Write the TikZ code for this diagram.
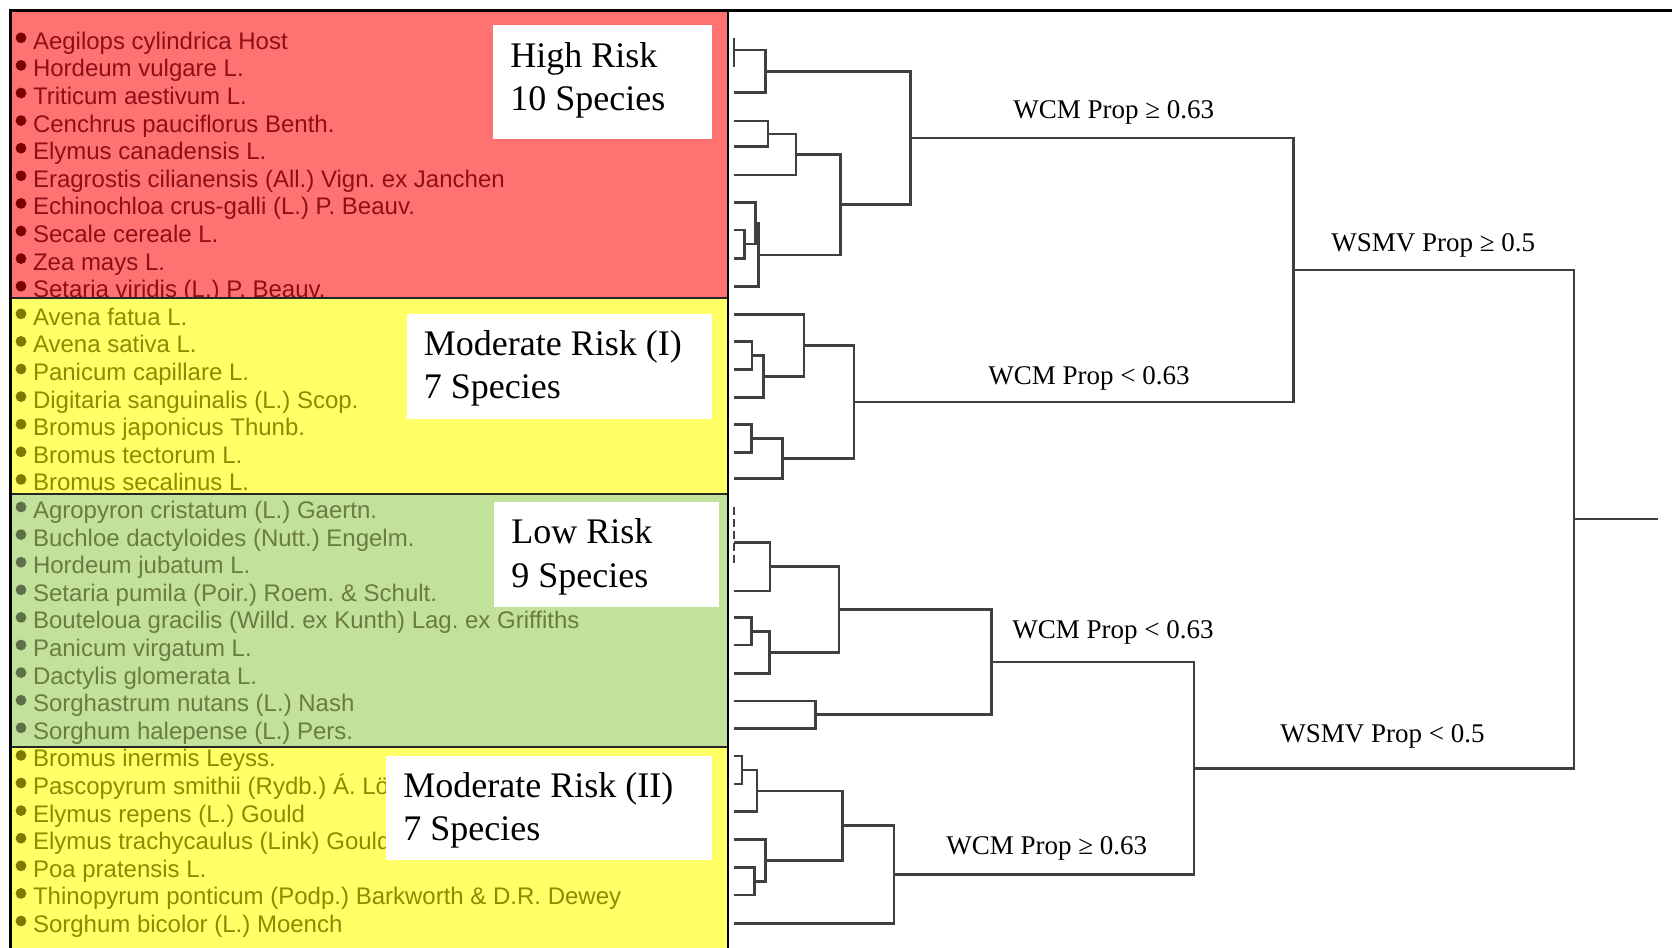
\documentclass[tikz,border=0pt]{standalone}
\usepackage{fontspec}
\setmainfont{Liberation Serif}
\newfontfamily\spfont{Liberation Sans}
\definecolor{redfill}{HTML}{FF7272}
\definecolor{redtext}{HTML}{8E0F16}
\definecolor{reddot}{HTML}{7A0000}
\definecolor{yelfill}{HTML}{FFFF66}
\definecolor{yeltext}{HTML}{8C8A00}
\definecolor{yeldot}{HTML}{7D7A00}
\definecolor{grnfill}{HTML}{C2E29C}
\definecolor{grntext}{HTML}{6A7C40}
\definecolor{grndot}{HTML}{5E7048}
\definecolor{dgray}{HTML}{404040}
\frenchspacing
\begin{document}
\frenchspacing
\begin{tikzpicture}[x=0.5pt,y=-0.5pt,
  sp/.style={anchor=base west, inner sep=0pt, font=\spfont\fontsize{12pt}{14pt}\selectfont\frenchspacing},
  dot/.style={circle, inner sep=0pt, minimum size=5.4pt},
  lbl/.style={anchor=base west, inner sep=0pt, font=\fontsize{18pt}{21pt}\selectfont},
  cond/.style={anchor=base west, inner sep=0pt, font=\fontsize{13.5pt}{16pt}\selectfont},
  wbox/.style={fill=white, draw=none, inner sep=0pt, anchor=north west},
  br/.style={draw=dgray, line width=1.25pt},
  tick/.style={draw=dgray, line width=0.8pt},
  dtick/.style={draw=dgray, line width=0.8pt, dash pattern=on 4pt off 2pt},
  frame/.style={draw=black, line width=1.2pt},
  sep/.style={draw=black!85, line width=1pt}
]
\useasboundingbox (0,0) rectangle (1672,948);

% ---- bands and species lists ----
\fill[redfill] (10.5,10.5) rectangle (728,298.3);
\foreach \t [count=\i from 0] in {Aegilops cylindrica Host, Hordeum vulgare L., Triticum aestivum L., Cenchrus pauciflorus Benth., Elymus canadensis L., Eragrostis cilianensis (All.) Vign. ex Janchen, Echinochloa crus-galli (L.) P. Beauv., Secale cereale L., Zea mays L., Setaria viridis (L.) P. Beauv.} {
  \node[dot, fill=reddot] (rd\i) at (21, {37.8+27.6*\i}) {};
  \node[sp, text=redtext] (rs\i) at (32.6, {49.3+27.6*\i}) {\t};
}
\fill[yelfill] (10.5,298.3) rectangle (728,494);
\foreach \t [count=\i from 0] in {Avena fatua L., Avena sativa L., Panicum capillare L., Digitaria sanguinalis (L.) Scop., Bromus japonicus Thunb., Bromus tectorum L., Bromus secalinus L.} {
  \node[dot, fill=yeldot] (ad\i) at (21, {37.8+27.6*(\i+10)}) {};
  \node[sp, text=yeltext] (as\i) at (32.6, {49.3+27.6*(\i+10)}) {\t};
}
\fill[grnfill] (10.5,494) rectangle (728,747);
\foreach \t [count=\i from 0] in {Agropyron cristatum (L.) Gaertn., Buchloe dactyloides (Nutt.) Engelm., Hordeum jubatum L., Setaria pumila (Poir.) Roem. \& Schult., Bouteloua gracilis (Willd. ex Kunth) Lag. ex Griffiths, Panicum virgatum L., Dactylis glomerata L., Sorghastrum nutans (L.) Nash, Sorghum halepense (L.) Pers.} {
  \node[dot, fill=grndot] (gd\i) at (21, {37.8+27.6*(\i+17)}) {};
  \node[sp, text=grntext] (gs\i) at (32.6, {49.3+27.6*(\i+17)}) {\t};
}
\fill[yelfill] (10.5,747) rectangle (728,948);
\foreach \t [count=\i from 0] in {Bromus inermis Leyss., Pascopyrum smithii (Rydb.) Á. Löve, Elymus repens (L.) Gould, Elymus trachycaulus (Link) Gould, Poa pratensis L., Thinopyrum ponticum (Podp.) Barkworth \& D.R. Dewey, Sorghum bicolor (L.) Moench} {
  \node[dot, fill=yeldot] (bd\i) at (21, {37.8+27.6*(\i+26)}) {};
  \node[sp, text=yeltext] (bs\i) at (32.6, {49.3+27.6*(\i+26)}) {\t};
}

% band separators and frame
\draw[sep] (10.5,298.3) -- (728,298.3);
\draw[sep] (10.5,494) -- (728,494);
\draw[sep] (10.5,747) -- (728,747);
\draw[frame] (1672,10.5) -- (10.5,10.5) -- (10.5,948);
\draw[frame] (728,10.5) -- (728,948);

% ---- group label boxes ----
\node[wbox, minimum width=109.7pt, minimum height=57pt] (hrbox) at (492.6,25) {};
\node[lbl] (hr1) at (510,67) {High Risk};
\node[lbl] (hr2) at (510,110) {10 Species};

\node[wbox, minimum width=152.5pt, minimum height=52.5pt] (m1box) at (407,313.5) {};
\node[lbl] (m11) at (423.5,355) {Moderate Risk (I)};
\node[lbl] (m12) at (423.5,398) {7 Species};

\node[wbox, minimum width=112.75pt, minimum height=52.5pt] (lrbox) at (493.5,502) {};
\node[lbl] (lr1) at (511,543.5) {Low Risk};
\node[lbl] (lr2) at (511,587) {9 Species};

\node[wbox, minimum width=163pt, minimum height=51.75pt] (m2box) at (386,756) {};
\node[lbl] (m21) at (403,797) {Moderate Risk (II)};
\node[lbl] (m22) at (403,840) {7 Species};

% ---- dendrogram: leaves ----
\foreach \n/\y in {L1/37.7, L2/66.7, L3/92.7, L4/121, L5/146.7, L6/175, L7/202.7, L8/230, L9/258.3, L10/286.7,
  M1/314.3, M2/341.7, M3/369.3, M4/397.7, M5/424.3, M6/452.7, M7/478.3,
  G1/507, G2/535.5, G3/565, G4/591, G5/617.7, G6/645, G7/673.3, G8/701, G9/728.3,
  Y1/756, Y2/784, Y3/811.7, Y4/839.3, Y5/867.7, Y6/895, Y7/923.3}
  \coordinate (\n) at (734,\y);

% internal nodes
\coordinate (n1) at (734,50);
\coordinate (n2) at (765.5,71.3);
\coordinate (n3) at (768,134);
\coordinate (n4) at (796,154.5);
\coordinate (n5) at (744.3,244);
\coordinate (n6) at (755.7,223.4);
\coordinate (n7) at (758.6,255);
\coordinate (n8) at (840.7,204.7);
\coordinate (n9) at (910.3,138);
\coordinate (m1) at (752,355.5);
\coordinate (m2) at (763.6,376.6);
\coordinate (m3) at (803.9,345.3);
\coordinate (m4) at (751.4,438.5);
\coordinate (m5) at (782.5,458.4);
\coordinate (m6) at (853.9,401.8);
\coordinate (r1) at (1293.4,270);
\coordinate (g0) at (734,542.3);
\coordinate (g1) at (770,566.6);
\coordinate (g2) at (751.4,631.3);
\coordinate (g3) at (769.3,652.3);
\coordinate (g4) at (838.9,609.5);
\coordinate (g5) at (815.7,714.7);
\coordinate (g6) at (991.3,662.1);
\coordinate (y1) at (742,770);
\coordinate (y2) at (756.8,790.8);
\coordinate (y3) at (754.6,881.3);
\coordinate (y4) at (765.7,860.3);
\coordinate (y5) at (842.5,825.6);
\coordinate (y6) at (894.2,874.5);
\coordinate (r2) at (1194,768.3);
\coordinate (root) at (1574,519.2);
\coordinate (rootend) at (1658,519.2);

% zero-height ties
\draw[tick] (L1) -- (L2);
\draw[dtick] (G1) -- (G3);

% branches
\foreach \c/\p in {n1/n2, L3/n2, L4/n3, L5/n3, n3/n4, L6/n4, L8/n5, L9/n5, L7/n6, n5/n6,
  n6/n7, L10/n7, n4/n8, n7/n8, n2/n9, n8/n9,
  M2/m1, M3/m1, m1/m2, M4/m2, M1/m3, m2/m3, M5/m4, M6/m4, m4/m5, M7/m5, m3/m6, m5/m6,
  n9/r1, m6/r1,
  g0/g1, G4/g1, G5/g2, G6/g2, g2/g3, G7/g3, g1/g4, g3/g4, G8/g5, G9/g5, g4/g6, g5/g6,
  Y1/y1, Y2/y1, y1/y2, Y3/y2, Y5/y3, Y6/y3, Y4/y4, y3/y4, y2/y5, y4/y5, y5/y6, Y7/y6,
  g6/r2, y6/r2, r1/root, r2/root}
  \draw[br] (\c) -| (\p);
\draw[br] (root) -- (rootend);

% ---- split labels ----
\node[cond] (c1) at (1013,118) {WCM Prop ≥ 0.63};
\node[cond] (c2) at (988,384) {WCM Prop < 0.63};
\node[cond] (c3) at (1331,251) {WSMV Prop ≥ 0.5};
\node[cond] (c4) at (1280,742.5) {WSMV Prop < 0.5};
\node[cond] (c5) at (1012,638.5) {WCM Prop < 0.63};
\node[cond] (c6) at (946,854.5) {WCM Prop ≥ 0.63};
\end{tikzpicture}
\end{document}
